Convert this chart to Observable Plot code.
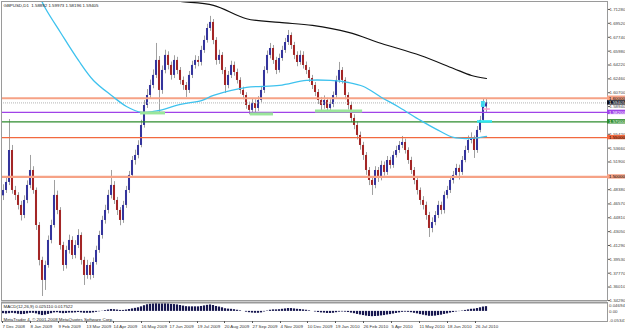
<!DOCTYPE html>
<html><head><meta charset="utf-8">
<script src="https://cdn.jsdelivr.net/npm/d3@7"></script>
<script src="https://cdn.jsdelivr.net/npm/@observablehq/plot@0.6"></script>
<style>
body{margin:0;background:#fff;}
#c{position:relative;width:625px;height:330px;overflow:hidden;background:#fff}
#c svg{display:block}
</style>
</head><body><div id="c"></div>
<script>
// ---------- DATA ----------
const titleText = "GBPUSD,D1  1.58892 1.59973 1.58196 1.59405";
const macdTitle = "MACD(12,26,9) 0.025110 0.017522";
const copyright = "MetaTrader 4, \u00a9 2001-2008 MetaQuotes Software Corp.";

const firstOpen = 1.4760;
const closes = [
1.4828,1.4930,1.5336,1.4828,1.4765,1.4638,1.4510,1.4701,1.4892,1.5082,
1.4828,1.4383,1.3939,1.3685,1.3875,1.4193,1.4383,1.4765,1.4574,1.4129,
1.3875,1.4066,1.4193,1.4002,1.4129,1.4256,1.3939,1.3748,1.3875,1.3748,
1.3913,1.4066,1.4256,1.4447,1.4574,1.4765,1.4892,1.4701,1.4574,1.4447,
1.4638,1.4828,1.5019,1.5209,1.5273,1.5400,1.5654,1.5908,1.6035,1.6162,
1.6290,1.6480,1.6099,1.6353,1.6544,1.6417,1.6290,1.6480,1.6353,1.6226,
1.6162,1.6099,1.6290,1.6417,1.6480,1.6455,1.6607,1.6734,1.6886,1.6963,
1.6734,1.6480,1.6544,1.6353,1.6162,1.6290,1.6417,1.6327,1.6226,1.6099,
1.6035,1.5908,1.5845,1.5933,1.5870,1.5971,1.6099,1.6353,1.6544,1.6632,
1.6480,1.6353,1.6505,1.6607,1.6708,1.6797,1.6670,1.6544,1.6454,1.6544,
1.6416,1.6353,1.6251,1.6162,1.6073,1.5971,1.5908,1.5971,1.5870,1.5921,
1.6035,1.6226,1.6353,1.6226,1.6035,1.5908,1.5743,1.5654,1.5527,1.5400,
1.5273,1.5082,1.4955,1.4892,1.5082,1.4980,1.5146,1.5057,1.5209,1.5146,
1.5273,1.5336,1.5400,1.5438,1.5336,1.5209,1.5082,1.4955,1.4828,1.4701,
1.4638,1.4510,1.4345,1.4421,1.4510,1.4638,1.4574,1.4765,1.4828,1.4955,
1.5019,1.5108,1.5057,1.5209,1.5336,1.5463,1.5489,1.5336,1.5591,1.5718,
1.5889,1.5941];
const highs = [
1.4900,1.4990,1.5730,1.5400,1.4880,1.4800,1.4690,1.4760,1.4950,1.5273,
1.5130,1.4860,1.4420,1.3980,1.3930,1.4250,1.4450,1.4955,1.4820,1.4610,
1.4170,1.4120,1.4260,1.4240,1.4190,1.4330,1.4290,1.3980,1.3940,1.3910,
1.3970,1.4120,1.4310,1.4500,1.4640,1.4830,1.5082,1.4940,1.4740,1.4610,
1.4690,1.4880,1.5070,1.5260,1.5340,1.5460,1.5720,1.5970,1.6110,1.6230,
1.6360,1.6696,1.6530,1.6410,1.6610,1.6590,1.6460,1.6540,1.6520,1.6390,
1.6270,1.6200,1.6340,1.6470,1.6540,1.6530,1.6660,1.6790,1.6940,1.7040,
1.7000,1.6770,1.6610,1.6580,1.6390,1.6340,1.6470,1.6460,1.6370,1.6260,
1.6140,1.6070,1.5950,1.5990,1.5980,1.6020,1.6150,1.6400,1.6600,1.6696,
1.6670,1.6520,1.6560,1.6660,1.6760,1.6861,1.6830,1.6710,1.6590,1.6600,
1.6590,1.6460,1.6390,1.6290,1.6200,1.6110,1.6010,1.6030,1.6000,1.5980,
1.6080,1.6280,1.6455,1.6390,1.6260,1.6070,1.5950,1.5790,1.5700,1.5570,
1.5440,1.5310,1.5120,1.5000,1.5130,1.5120,1.5200,1.5190,1.5260,1.5250,
1.5320,1.5390,1.5450,1.5514,1.5480,1.5370,1.5250,1.5120,1.4990,1.4860,
1.4750,1.4680,1.4550,1.4480,1.4560,1.4690,1.4680,1.4810,1.4880,1.5000,
1.5070,1.5160,1.5150,1.5260,1.5390,1.5520,1.5560,1.5520,1.5640,1.5770,
1.5985,1.5997];
const lows = [
1.4700,1.4790,1.4890,1.4780,1.4700,1.4580,1.4440,1.4470,1.4660,1.4850,
1.4780,1.4320,1.3870,1.3481,1.3558,1.3840,1.4150,1.4350,1.4520,1.4070,
1.3800,1.3830,1.4020,1.3950,1.3960,1.4090,1.3880,1.3621,1.3700,1.3690,
1.3710,1.3880,1.4030,1.4210,1.4400,1.4530,1.4720,1.4650,1.4510,1.4380,
1.4410,1.4600,1.4790,1.4980,1.5150,1.5230,1.5370,1.5620,1.5870,1.6000,
1.6120,1.6250,1.5819,1.6050,1.6310,1.6360,1.6230,1.6250,1.6300,1.6170,
1.6100,1.6010,1.6060,1.6250,1.6370,1.6400,1.6410,1.6570,1.6700,1.6850,
1.6680,1.6420,1.6430,1.6300,1.6061,1.6120,1.6250,1.6280,1.6180,1.6050,
1.5980,1.5860,1.5790,1.5800,1.5781,1.5830,1.5940,1.6060,1.6310,1.6500,
1.6430,1.6300,1.6320,1.6470,1.6570,1.6670,1.6620,1.6490,1.6400,1.6420,
1.6370,1.6300,1.6200,1.6110,1.6020,1.5920,1.5840,1.5860,1.5810,1.5830,
1.5880,1.6000,1.6190,1.6180,1.5980,1.5850,1.5690,1.5600,1.5470,1.5340,
1.5210,1.5020,1.4890,1.4765,1.4850,1.4930,1.4950,1.5010,1.5020,1.5100,
1.5110,1.5240,1.5300,1.5360,1.5290,1.5160,1.5030,1.4900,1.4770,1.4640,
1.4580,1.4450,1.4231,1.4290,1.4380,1.4470,1.4520,1.4530,1.4720,1.4790,
1.4910,1.4980,1.4960,1.5020,1.5180,1.5300,1.5420,1.5235,1.5300,1.5560,
1.5690,1.5820];
const macd = [
-0.012,-0.014,-0.012,-0.010,-0.012,-0.015,-0.017,-0.016,-0.013,-0.010,
-0.010,-0.013,-0.018,-0.022,-0.020,-0.016,-0.012,-0.008,-0.007,-0.010,
-0.012,-0.011,-0.009,-0.009,-0.008,-0.006,-0.008,-0.010,-0.010,-0.010,
-0.008,-0.005,-0.002,0.001,0.004,0.007,0.010,0.009,0.007,0.005,
0.005,0.007,0.010,0.013,0.016,0.019,0.024,0.030,0.035,0.038,
0.040,0.043,0.040,0.040,0.041,0.040,0.037,0.036,0.034,0.031,
0.028,0.025,0.024,0.024,0.024,0.024,0.026,0.029,0.032,0.034,
0.031,0.026,0.023,0.019,0.014,0.012,0.011,0.009,0.006,0.003,
0.000,-0.004,-0.007,-0.009,-0.010,-0.010,-0.008,-0.003,0.002,0.006,
0.008,0.008,0.009,0.011,0.013,0.015,0.015,0.013,0.011,0.010,
0.008,0.006,0.003,0.000,-0.003,-0.006,-0.008,-0.009,-0.011,-0.011,
-0.010,-0.007,-0.004,-0.003,-0.004,-0.006,-0.009,-0.012,-0.016,-0.019,
-0.022,-0.025,-0.027,-0.028,-0.027,-0.026,-0.024,-0.022,-0.019,-0.017,
-0.014,-0.011,-0.008,-0.005,-0.004,-0.005,-0.007,-0.010,-0.013,-0.017,
-0.020,-0.023,-0.026,-0.026,-0.025,-0.022,-0.020,-0.016,-0.013,-0.009,
-0.006,-0.003,-0.001,0.002,0.005,0.008,0.011,0.012,0.015,0.019,
0.023,0.025];

// moving averages (bar index, price)
const maFastIdx = [12,14,19,25,30,36,41,46,50,52,59,66,70,81,92,101,109,115,120,126,132,139,145,150,156,161];
const maFastVal = [1.7293,1.7140,1.6835,1.6480,1.6226,1.6035,1.5895,1.5819,1.5832,1.5845,1.5921,1.5971,1.6035,1.6137,1.6162,1.6226,1.6226,1.6200,1.6149,1.6010,1.5883,1.5718,1.5591,1.5502,1.5489,1.5514];
const maSlowIdx = [52,59,70,81,92,103,115,126,139,150,156,161];
const maSlowVal = [1.7262,1.7229,1.7180,1.7010,1.6963,1.6925,1.6836,1.6696,1.6543,1.6378,1.6289,1.6251];

// horizontal levels
const levelPrices = [1.6000, 1.5820, 1.5700, 1.5500, 1.5000];
const currentPrice = 1.59405;

// highlight zones
const zoneStart = [45.7, 82.3, 104];
const zoneEnd   = [54, 90, 119.7];
const zonePrice = [1.5813, 1.5800, 1.5838];

// price axis ticks (those hidden under the level boxes are not shown)
const priceTicks = [1.7128,1.6952,1.6774,1.6598,1.6422,1.6246,1.6070,1.5894,1.5542,1.5366,1.5190,1.4838,1.4657,1.4481,1.4305,1.4129,1.3953,1.3777,1.3601,1.3429];
const macdTicks = [0.0300, 0, -0.0495];
const macdTickLabels = ["0.04694", "0.00", "-0.05341"];

// date ticks (bar index)
const dateIdx = [-0.33,9,18.33,27.67,36.67,46,55.33,64.67,73.67,83,92.33,101.33,110.67,120,129.33,138.67,148,157.33];
const dateLabels = ["7 Dec 2008","8 Jan 2009","9 Feb 2009","13 Mar 2009","14 Apr 2009","16 May 2009","17 Jun 2009","19 Jul 2009","20 Aug 2009","27 Sep 2009","4 Nov 2009","10 Dec 2009","19 Jan 2010","26 Feb 2010","5 Apr 2010","11 May 2010","18 Jun 2010","26 Jul 2010"];

// ---------- STYLE ----------
const FONT = "'Liberation Sans',Arial,sans-serif";
const FS = 4.4;
const upCol = "#34349c", downCol = "#a32626", wickCol = "#a0a0a0";
const levelColors = ["#f6a286", "#a043e8", "#2e8c2e", "#f2693f", "#f6a286"];
const levelWidths = [2, 1.2, 1.2, 1.3, 2.2];
const levelText = ["#000", "#fff", "#fff", "#000", "#000"];
const xDomain = [-2/3, 606/3 - 2/3];
const xR = xDomain[1];

const rows = closes.map((c, i) => ({i, open: i === 0 ? firstOpen : closes[i-1], close: c, high: highs[i], low: lows[i]}));
const fast = maFastIdx.map((i, k) => ({i, v: maFastVal[k]}));
const slow = maSlowIdx.map((i, k) => ({i, v: maSlowVal[k]}));
const zones = zoneStart.map((s, k) => ({s, e: zoneEnd[k], p: zonePrice[k]}));
const levels = levelPrices.map((p, k) => ({p, k}));
const boxes = [{p: currentPrice, fill: "#10101c", text: "#fff"}, ...levels.map(d => ({p: d.p, fill: levelColors[d.k], text: levelText[d.k]}))];
const macdRows = macd.map((v, i) => ({i, v}));

const main = Plot.plot({
  width: 625, height: 301,
  marginLeft: 1, marginRight: 18, marginTop: 1, marginBottom: 1,
  x: {domain: xDomain, axis: null},
  y: {domain: [1.3430, 1.7229], axis: null},
  style: {fontFamily: FONT, fontSize: FS + "px", background: "transparent", overflow: "visible", color: "#555"},
  marks: [
    Plot.ruleX(rows, {x: "i", y1: "low", y2: "high", stroke: wickCol, strokeWidth: 1}),
    Plot.rect(rows, {x1: d => d.i - 0.34, x2: d => d.i + 0.34, y1: "open", y2: "close",
      fill: d => d.close >= d.open ? upCol : downCol}),
    Plot.ruleY([currentPrice], {stroke: "#b4b4b4", strokeDasharray: "1,1"}),
    Plot.ruleY(levels, {y: "p", stroke: d => levelColors[d.k], strokeWidth: d => levelWidths[d.k]}),
    Plot.line(fast, {x: "i", y: "v", stroke: "#3ec2ee", strokeWidth: 1.3, curve: "catmull-rom", clip: true}),
    Plot.line(slow, {x: "i", y: "v", stroke: "#111", strokeWidth: 1.2, curve: "catmull-rom", clip: true}),
    Plot.ruleY(zones, {y: "p", x1: "s", x2: "e", stroke: "#9ae69a", strokeWidth: 3}),
    Plot.ruleY([1.5705], {x1: 158, x2: 163, stroke: "#2ee6f0", strokeWidth: 2.5}),
    Plot.ruleY([1.5863], {x1: 160, x2: 162.3, stroke: "#ff9ccc", strokeWidth: 1.5}),
    Plot.rect([{a: 159.3, b: 160.6, lo: 1.5883, hi: 1.5958}], {x1: "a", x2: "b", y1: "lo", y2: "hi", fill: "#3ed8ee"}),
    Plot.frame({stroke: "#9a9a9a"}),
    Plot.axisY(priceTicks, {anchor: "right", tickSize: 2, tickPadding: 0, fontSize: FS, fill: "#444",
      tickFormat: d => d.toFixed(5)}),
    Plot.rect(boxes, {x1: xR, x2: xR + 7, y1: d => d.p - 0.0028, y2: d => d.p + 0.0028, fill: "fill"}),
    Plot.text(boxes, {x: xR + 0.5, y: "p", text: d => d.p.toFixed(5), fill: "text", textAnchor: "start", fontSize: FS}),
    Plot.text([titleText], {frameAnchor: "top-left", dx: 2, dy: 2, fill: "#222", fontSize: FS, textAnchor: "start", lineAnchor: "top"})
  ]
});

const tickMap = new Map(dateIdx.map((d, k) => [d, dateLabels[k]]));
const sub = Plot.plot({
  width: 625, height: 29,
  marginLeft: 1, marginRight: 18, marginTop: 1, marginBottom: 9,
  x: {domain: xDomain, axis: null},
  y: {domain: [-0.05341, 0.04694], axis: null},
  style: {fontFamily: FONT, fontSize: FS + "px", background: "transparent", overflow: "visible", color: "#555"},
  marks: [
    Plot.rect(macdRows, {x1: d => d.i - 0.36, x2: d => d.i + 0.36, y1: 0, y2: "v", fill: "#181850"}),
    Plot.frame({stroke: "#9a9a9a"}),
    Plot.ruleY([0.04694], {stroke: "#9a9a9a", strokeWidth: 2}),
    Plot.axisX(dateIdx, {anchor: "bottom", tickSize: 2, tickPadding: 1, fontSize: FS, fill: "#333",
      textAnchor: "start", tickFormat: d => tickMap.get(d)}),
    Plot.text(macdTicks, {x: xR + 0.5, y: d => d, text: (d, k) => macdTickLabels[k], textAnchor: "start", fill: "#444", fontSize: FS}),
    Plot.text([macdTitle], {frameAnchor: "top-left", dx: 2, dy: 2, fill: "#222", fontSize: FS, lineAnchor: "top", textAnchor: "start"}),
    Plot.text([copyright], {frameAnchor: "bottom-left", dx: 2, dy: -1, fill: "#222", fontSize: FS, lineAnchor: "bottom", textAnchor: "start"})
  ]
});

const c = document.getElementById("c");
c.appendChild(main);
c.appendChild(sub);
</script></body></html>
